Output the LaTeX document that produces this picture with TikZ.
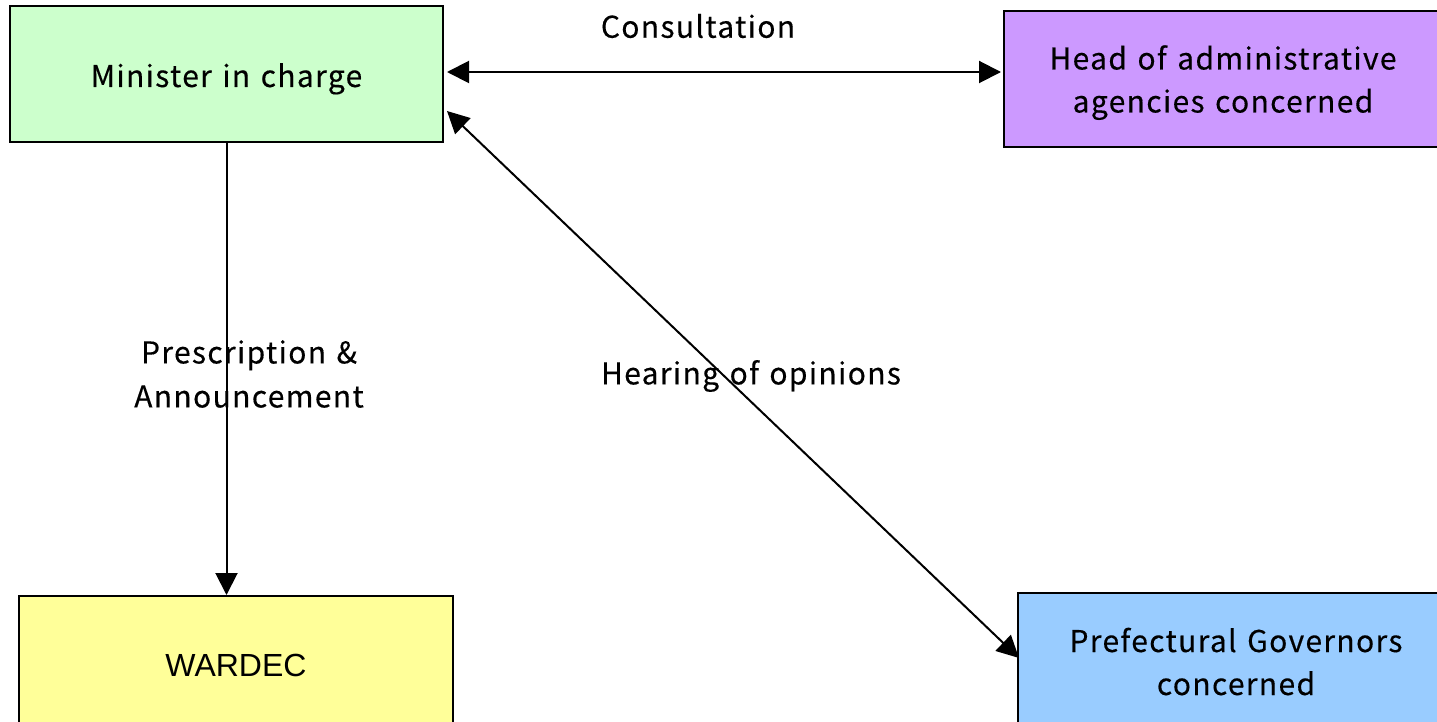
\documentclass[tikz,border=0pt]{standalone}
\usepackage{fontspec}
\setmainfont{Noto Sans CJK JP}[LetterSpace=4.5, WordSpace=1.3, FakeBold=0.3]
\newfontfamily\arialfont{Liberation Sans}
\usetikzlibrary{arrows.meta}
\definecolor{boxgreen}{HTML}{CCFFCC}
\definecolor{boxviolet}{HTML}{CC99FF}
\definecolor{boxyellow}{HTML}{FFFF99}
\definecolor{boxblue}{HTML}{99CCFF}
% invisible struts that fix the height above and depth below a text line
\newcommand\uphold[1]{\rule{0pt}{#1}}
\newcommand\downhold[1]{\rule[-#1]{0pt}{#1}}
\tikzset{
  box/.style={draw=black, line width=2pt, inner sep=0pt, align=center,
    minimum height=136pt, font=\fontsize{30}{43}\selectfont},
  link/.style={line width=2pt, -{Triangle[length=22pt,width=22pt]}},
  biglink/.style={line width=2pt, {Triangle[length=22pt,width=22pt]}-{Triangle[length=22pt,width=22pt]}},
  lbl/.style={inner sep=0pt, align=center, font=\fontsize{30}{44}\selectfont}
}
\begin{document}
\begin{tikzpicture}[x=1pt,y=-1pt]
  \useasboundingbox (0,0) rectangle (1437,722);
  \clip (0,0) rectangle (1437,722);
  % boxes
  \node[box, fill=boxgreen, minimum width=433pt] (min) at (226.5,74)
    {\uphold{34pt}\downhold{8pt}Minister in charge};
  \node[box, fill=boxviolet, minimum width=438pt] (head) at (1223,79)
    {\uphold{33pt}Head of administrative\\\downhold{9pt}agencies concerned};
  \node[box, fill=boxyellow, minimum width=434pt, font=\arialfont\fontsize{32}{36}\selectfont] (ward) at (236,664)
    {\uphold{26pt}\downhold{2pt}WARDEC};
  \node[box, fill=boxblue, minimum width=436pt] (pref) at (1236,661)
    {\uphold{34pt}Prefectural Governors\\\downhold{9pt}concerned};
  % connectors
  \coordinate (mdiag) at ([xshift=3pt,yshift=32pt]min.south east);
  \coordinate (pdiag) at ([xshift=2pt,yshift=-66pt]pref.north west);
  \draw[biglink] ([xshift=3pt,yshift=2pt]min.east) -- ([xshift=-2pt,yshift=2pt]min.east -| head.west);
  \draw[biglink] (mdiag) -- (pdiag);
  \draw[link] (min.south) -- (min.south |- ward.north);
  % labels
  \node[lbl] (lcons) at (698,26) {Consultation};
  \node[lbl] (lpres) at (249,374) {Prescription \&\\Announcement};
  \node[lbl] (lhear) at (751,376) {Hearing of opinions};
\end{tikzpicture}
\end{document}
